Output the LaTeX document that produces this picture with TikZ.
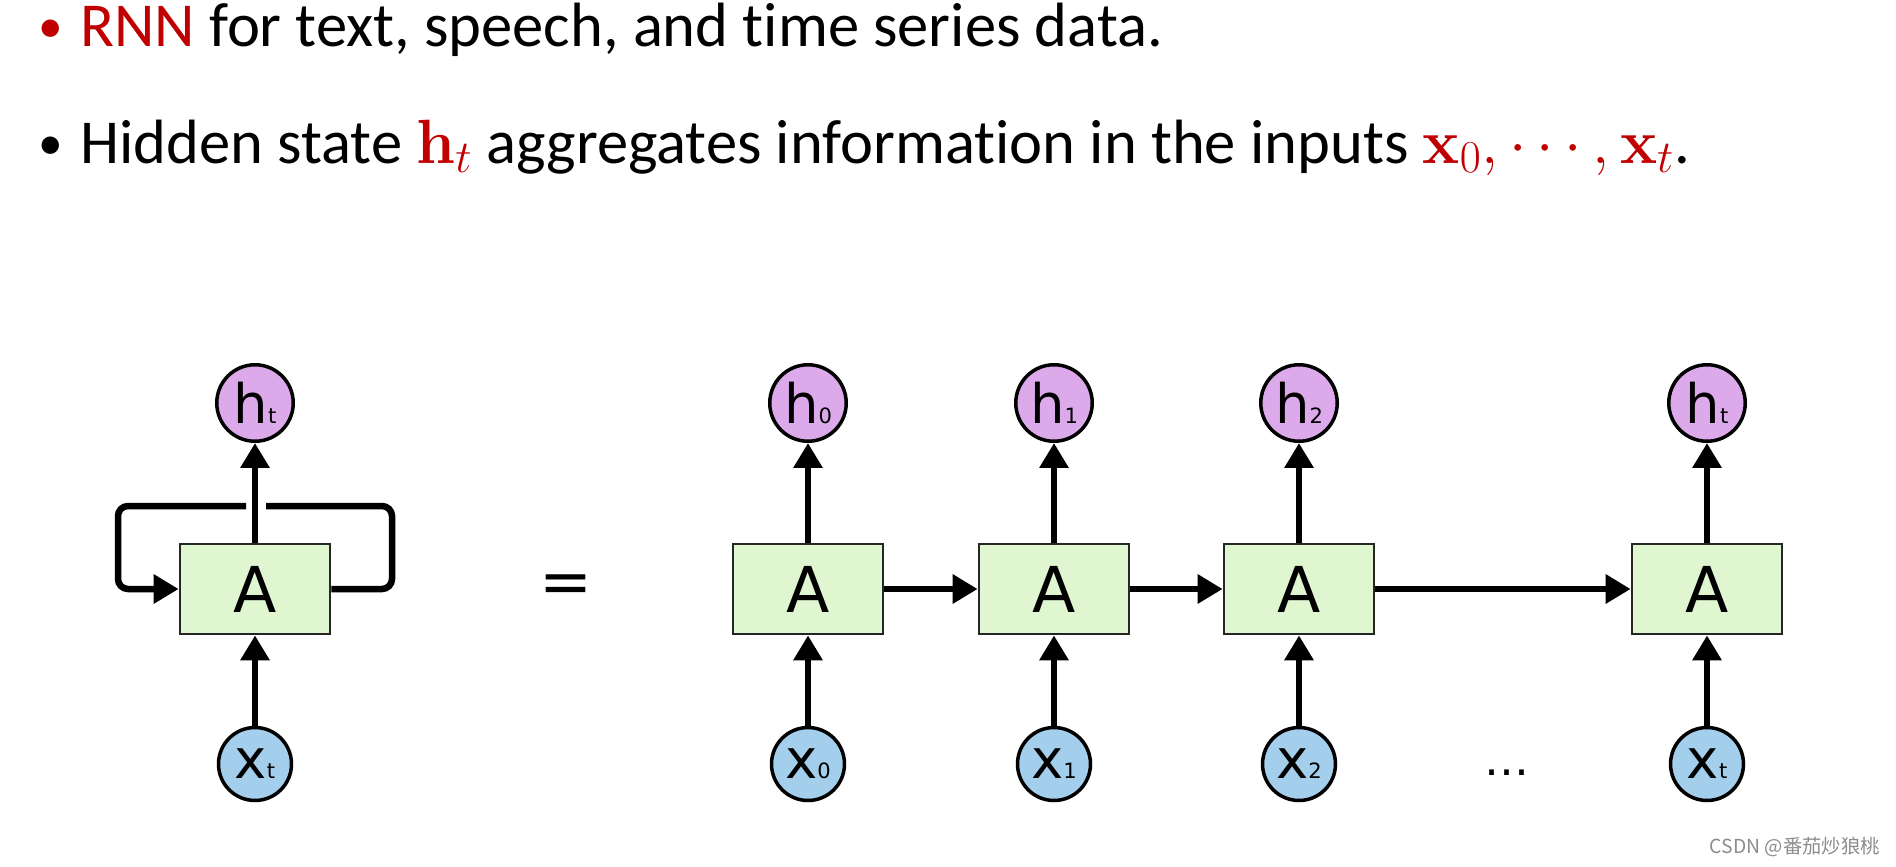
\documentclass[tikz,border=0pt]{standalone}
\usepackage{fix-cm}
\usepackage[no-math]{fontspec}
\setmainfont{Carlito}[Ligatures=NoCommon]
\newfontfamily\cellfont{DejaVu Sans}
\newfontfamily\cjkfont{Noto Sans CJK SC}
\usetikzlibrary{arrows.meta}

\definecolor{hidcol}{HTML}{DCAAEB}
\definecolor{incol}{HTML}{A3CEEC}
\definecolor{cellcol}{HTML}{E0F6D0}
\definecolor{keyred}{HTML}{C00000}

% letter with a small index on the same baseline
\newcommand{\clabel}[2]{{\fontsize{31}{31}\selectfont #1}{\fontsize{12}{12}\selectfont #2}}
% larger math index
\newcommand{\bigidx}[1]{\hbox{\fontsize{26}{26}\selectfont$#1$}}

\begin{document}
\begin{tikzpicture}[x=0.02cm, y=-0.02cm,
  cell/.style={draw=black!85, fill=cellcol, line width=0.055cm, minimum width=3.0cm, minimum height=1.8cm, inner sep=0, font=\cellfont\fontsize{36}{36}\selectfont},
  hid/.style={circle, draw, fill=hidcol, line width=0.07cm, minimum size=1.53cm, inner sep=0, font=\cellfont},
  inp/.style={circle, draw, fill=incol, line width=0.07cm, minimum size=1.46cm, inner sep=0, font=\cellfont},
  arrow/.style={-{Triangle[length=0.5cm, width=0.56cm]}, line width=0.13cm},
  link/.style={line width=0.13cm, rounded corners=0.2cm},
  dotmark/.style={anchor=base, inner sep=0, font=\fontsize{28}{30}\selectfont},
  bullettext/.style={anchor=base west, inner sep=0, font=\fontsize{35.6}{43}\selectfont}
]
\useasboundingbox (0,0) rectangle (1896,866);

% bullet lines
\node[dotmark, text=keyred] (b1) at (51,42) {•};
\node[bullettext] (l1) at (80,46) {\textcolor{keyred}{RNN} for text, speech, and time series data.};
\node[dotmark] (b2) at (51,159) {•};
\node[bullettext] (l2) at (80,163) {Hidden state $\textcolor{keyred}{\mathbf{h}_{\bigidx{t}}}$ aggregates information in the inputs $\textcolor{keyred}{\mathbf{x}_{\bigidx{0}}, \cdots, \mathbf{x}_{\bigidx{t}}}$.};

% folded network
\node[cell] (Af) at (255,589) {A};
\node[hid] (hf) at (255,403) {\clabel{h}{t}};
\node[inp] (xf) at (255,764) {\clabel{x}{t}};
\draw[arrow] (xf) -- (Af.south);
\draw[arrow] (Af.north) -- (hf);
\draw[link] (Af.east) -| (392,506) -- (266,506);
\draw[link, arrow] (246,506) -| (118,589) -- (Af.west);

\node[font=\cellfont\fontsize{36}{36}\selectfont] (eq) at (566,589) {=};

% unrolled network
\node[cell] (A0) at (808,589) {A};
\node[cell] (A1) at (1054,589) {A};
\node[cell] (A2) at (1299,589) {A};
\node[cell] (AT) at (1707,589) {A};
\node[hid] (h0) at (808,403) {\clabel{h}{0}};
\node[hid] (h1) at (1054,403) {\clabel{h}{1}};
\node[hid] (h2) at (1299,403) {\clabel{h}{2}};
\node[hid] (hT) at (1707,403) {\clabel{h}{t}};
\node[inp] (x0) at (808,764) {\clabel{x}{0}};
\node[inp] (x1) at (1054,764) {\clabel{x}{1}};
\node[inp] (x2) at (1299,764) {\clabel{x}{2}};
\node[inp] (xT) at (1707,764) {\clabel{x}{t}};
\node[anchor=base, inner sep=0, font=\cellfont\fontsize{25.6}{26}\selectfont] (dots) at (1507,775) {…};

\draw[arrow] (x0) -- (A0.south);
\draw[arrow] (x1) -- (A1.south);
\draw[arrow] (x2) -- (A2.south);
\draw[arrow] (xT) -- (AT.south);
\draw[arrow] (A0.north) -- (h0);
\draw[arrow] (A1.north) -- (h1);
\draw[arrow] (A2.north) -- (h2);
\draw[arrow] (AT.north) -- (hT);
\draw[arrow] (A0) -- (A1);
\draw[arrow] (A1) -- (A2);
\draw[arrow] (A2) -- (AT);

\node[anchor=base east, inner sep=0, text=black!45, font=\cjkfont\fontsize{11}{11}\selectfont] (mark) at (1880,853) {CSDN @番茄炒狼桃};
\end{tikzpicture}
\end{document}
